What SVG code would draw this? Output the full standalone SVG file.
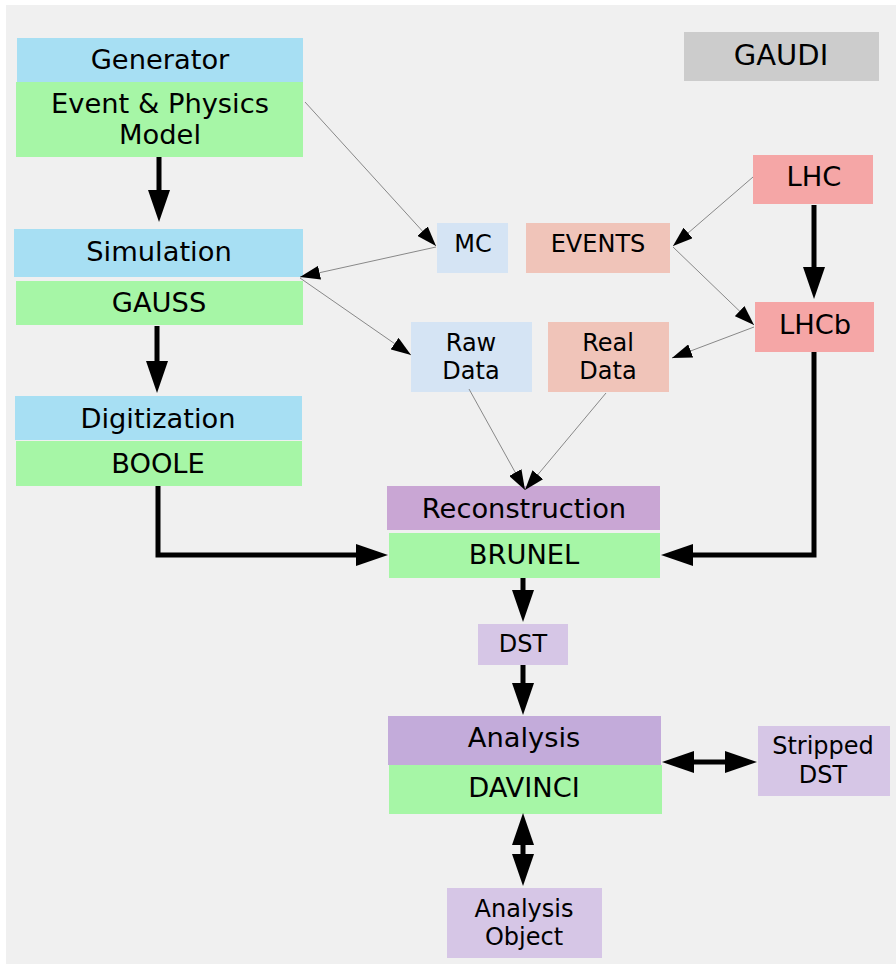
<svg xmlns="http://www.w3.org/2000/svg" width="896" height="964" viewBox="0 0 896 964">
<defs>
<style>
text{font-family:"DejaVu Sans","Liberation Sans",sans-serif;fill:#000;text-anchor:middle}
.big{font-size:27.3px}
.small{font-size:24px}
.blue{fill:#a7dff3}
.green{fill:#a6f6a6}
.lblue{fill:#d5e4f4}
.salmon{fill:#f0c4b9}
.red{fill:#f5a6a6}
.recon{fill:#c9a6d4}
.ana{fill:#c3abda}
.lpurple{fill:#d6c6e6}
.thick{fill:none;stroke:#000;stroke-width:5}
.thin{fill:none;stroke:#888;stroke-width:1}
</style>
<marker id="hb" viewBox="0 0 32 22" markerWidth="32" markerHeight="22" refX="0" refY="11" orient="auto-start-reverse" markerUnits="userSpaceOnUse">
<path d="M0,0 L32,11 L0,22 z" fill="#000"/>
</marker>
<marker id="hs" viewBox="0 0 20 14" markerWidth="20" markerHeight="14" refX="20" refY="7" orient="auto" markerUnits="userSpaceOnUse">
<path d="M0,0 L20,7 L0,14 z" fill="#000"/>
</marker>
</defs>
<rect x="6" y="5" width="890" height="959" fill="#f0f0f0"/>

<g id="gaudi"><rect x="684" y="32" width="195" height="49" fill="#cccccc"/><text x="781" y="65" style="font-size:29px">GAUDI</text></g>

<g id="generator"><rect class="blue" x="17" y="38" width="286" height="44"/><text class="big" x="160" y="69">Generator</text></g>
<g id="event-physics"><rect class="green" x="16" y="82" width="287" height="75"/><text class="big" x="160" y="113">Event &amp; Physics</text><text class="big" x="160" y="144">Model</text></g>

<g id="simulation"><rect class="blue" x="14" y="229" width="289" height="48"/><text class="big" x="159" y="261">Simulation</text></g>
<g id="gauss"><rect class="green" x="16" y="281" width="287" height="44"/><text class="big" x="159" y="312">GAUSS</text></g>

<g id="digitization"><rect class="blue" x="15" y="396" width="287" height="44"/><text class="big" x="158" y="428">Digitization</text></g>
<g id="boole"><rect class="green" x="16" y="441" width="286" height="45"/><text class="big" x="158" y="473">BOOLE</text></g>

<g id="mc"><rect class="lblue" x="437" y="223" width="71" height="50"/><text class="small" x="473" y="252">MC</text></g>
<g id="events"><rect class="salmon" x="526" y="223" width="144" height="50"/><text class="small" x="598" y="252">EVENTS</text></g>
<g id="lhc"><rect class="red" x="753" y="155" width="120" height="49"/><text class="big" x="814" y="186">LHC</text></g>
<g id="lhcb"><rect class="red" x="755" y="302" width="119" height="50"/><text class="big" x="815" y="334">LHCb</text></g>
<g id="raw-data"><rect class="lblue" x="411" y="322" width="121" height="70"/><text class="small" x="471" y="351">Raw</text><text class="small" x="471" y="379">Data</text></g>
<g id="real-data"><rect class="salmon" x="548" y="322" width="121" height="70"/><text class="small" x="608" y="351">Real</text><text class="small" x="608" y="379">Data</text></g>

<g id="reconstruction"><rect class="recon" x="387" y="486" width="273" height="44"/><text class="big" x="524" y="518">Reconstruction</text></g>
<g id="brunel"><rect class="green" x="389" y="533" width="271" height="45"/><text class="big" x="524" y="564">BRUNEL</text></g>

<g id="dst"><rect class="lpurple" x="478" y="624" width="90" height="41"/><text class="small" x="523" y="652">DST</text></g>

<g id="analysis"><rect class="ana" x="388" y="716" width="273" height="49"/><text class="big" x="524" y="747">Analysis</text></g>
<g id="davinci"><rect class="green" x="389" y="765" width="273" height="49"/><text class="big" x="524" y="797">DAVINCI</text></g>

<g id="stripped-dst"><rect class="lpurple" x="758" y="726" width="132" height="70"/><text class="small" x="823" y="754">Stripped</text><text class="small" x="823" y="783">DST</text></g>
<g id="analysis-object"><rect class="lpurple" x="447" y="888" width="155" height="70"/><text class="small" x="524" y="917">Analysis</text><text class="small" x="524" y="945">Object</text></g>

<g id="connectors">
<path class="thick" d="M159,157 L159,190" marker-end="url(#hb)"/>
<path class="thick" d="M157,326 L157,361" marker-end="url(#hb)"/>
<path class="thick" d="M158,486 L158,555 L356,555" marker-end="url(#hb)"/>
<path class="thick" d="M814,352 L814,555 L693,555" marker-end="url(#hb)"/>
<path class="thick" d="M814,205 L814,267" marker-end="url(#hb)"/>
<path class="thick" d="M523,578 L523,590" marker-end="url(#hb)"/>
<path class="thick" d="M523,665 L523,683" marker-end="url(#hb)"/>
<path class="thick" d="M694,762 L725,762" marker-start="url(#hb)" marker-end="url(#hb)"/>
<path class="thick" d="M523,845 L523,854" marker-start="url(#hb)" marker-end="url(#hb)"/>

<path class="thin" d="M305,102 L436,246" marker-end="url(#hs)"/>
<path class="thin" d="M436,247 L300,277" marker-end="url(#hs)"/>
<path class="thin" d="M300,278 L411,355" marker-end="url(#hs)"/>
<path class="thin" d="M753,177 L673,246" marker-end="url(#hs)"/>
<path class="thin" d="M673,247 L754,325" marker-end="url(#hs)"/>
<path class="thin" d="M754,327 L672,358" marker-end="url(#hs)"/>
<path class="thin" d="M469,389 L525,490" marker-end="url(#hs)"/>
<path class="thin" d="M606,393 L525,490" marker-end="url(#hs)"/>
</g>
</svg>
